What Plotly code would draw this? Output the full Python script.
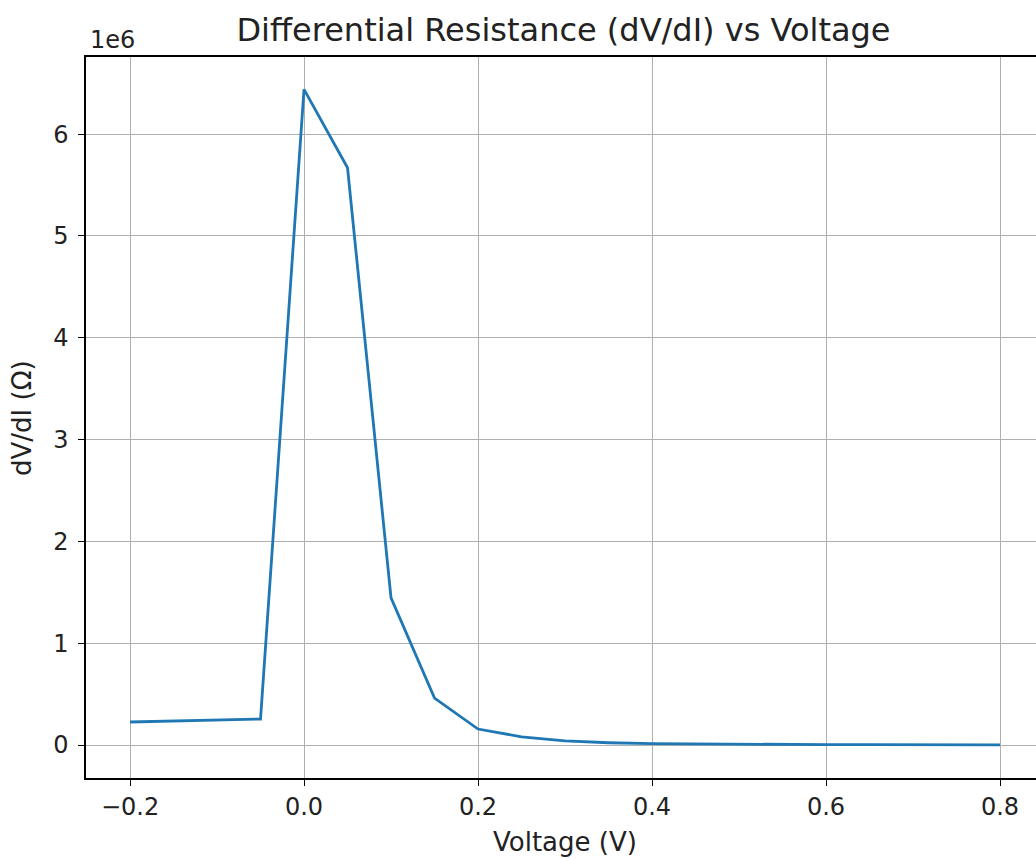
import plotly.graph_objects as go

voltage = [-0.2, -0.1, -0.05, 0.0, 0.05, 0.1, 0.15, 0.2, 0.25, 0.3, 0.35, 0.4, 0.45, 0.5, 0.55, 0.6, 0.65, 0.7, 0.75, 0.8]
dvdi = [0.226e6, 0.245e6, 0.255e6, 6.44e6, 5.67e6, 1.445e6, 0.46e6, 0.157e6, 0.08e6, 0.04e6,
        0.022e6, 0.013e6, 0.009e6, 0.006e6, 0.005e6, 0.004e6, 0.003e6, 0.003e6, 0.002e6, 0.002e6]
x_ticks = [-0.2, 0.0, 0.2, 0.4, 0.6, 0.8]
x_tick_text = ["\u22120.2", "0.0", "0.2", "0.4", "0.6", "0.8"]
y_ticks = [0, 1e6, 2e6, 3e6, 4e6, 5e6, 6e6]
y_tick_text = ["0", "1", "2", "3", "4", "5", "6"]

W, H = 1036, 859
L, T, B = 86, 57, 81
PW, PH = W - L, H - T - B

FONT = "DejaVu Sans"

fig = go.Figure()
fig.add_trace(go.Scatter(x=voltage, y=dvdi, mode="lines",
                         line=dict(color="#1f77b4", width=2.8), showlegend=False))

fig.update_layout(
    width=W, height=H,
    margin=dict(l=L, r=0, t=T, b=B),
    paper_bgcolor="white", plot_bgcolor="white",
    font=dict(family=FONT, size=24, color="#222222"),
    title=dict(text="Differential Resistance (dV/dI) vs Voltage",
               x=563.5 / W, xanchor="center", y=1 - 30 / H, yanchor="middle",
               font=dict(size=32, family=FONT, color="#222222")),
    xaxis=dict(range=[-0.2506, -0.2506 + PW / 870.0], tickvals=x_ticks, ticktext=x_tick_text,
               showgrid=True, gridcolor="#b0b0b0", gridwidth=1,
               showline=True, linecolor="black", linewidth=1.5, mirror=True,
               ticks="outside", ticklen=6, tickwidth=1.3, tickcolor="black",
               zeroline=False, tickfont=dict(size=24, family=FONT)),
    yaxis=dict(range=[-0.324e6, 6.758e6], tickvals=y_ticks, ticktext=y_tick_text,
               showgrid=True, gridcolor="#b0b0b0", gridwidth=1,
               showline=True, linecolor="black", linewidth=1.5, mirror=False,
               ticks="outside", ticklen=6, tickwidth=1.3, tickcolor="black",
               ticklabelstandoff=5,
               zeroline=False, tickfont=dict(size=24, family=FONT)),
)

fig.add_annotation(text="Voltage (V)", xref="paper", yref="paper",
                   x=(565 - L) / PW, y=(T + PH - 842) / PH, xanchor="center", yanchor="middle",
                   showarrow=False, font=dict(size=26, family=FONT))
fig.add_annotation(text="dV/dI (\u03a9)", xref="paper", yref="paper",
                   x=(22 - L) / PW, y=(T + PH - 418) / PH, xanchor="center", yanchor="middle",
                   textangle=-90, showarrow=False, font=dict(size=26, family=FONT))
fig.add_annotation(text="1e6", xref="paper", yref="paper",
                   x=(88 - L) / PW, y=(T + PH - 40) / PH, xanchor="left", yanchor="middle",
                   showarrow=False, font=dict(size=24, family=FONT))

fig.write_html("out.html")
